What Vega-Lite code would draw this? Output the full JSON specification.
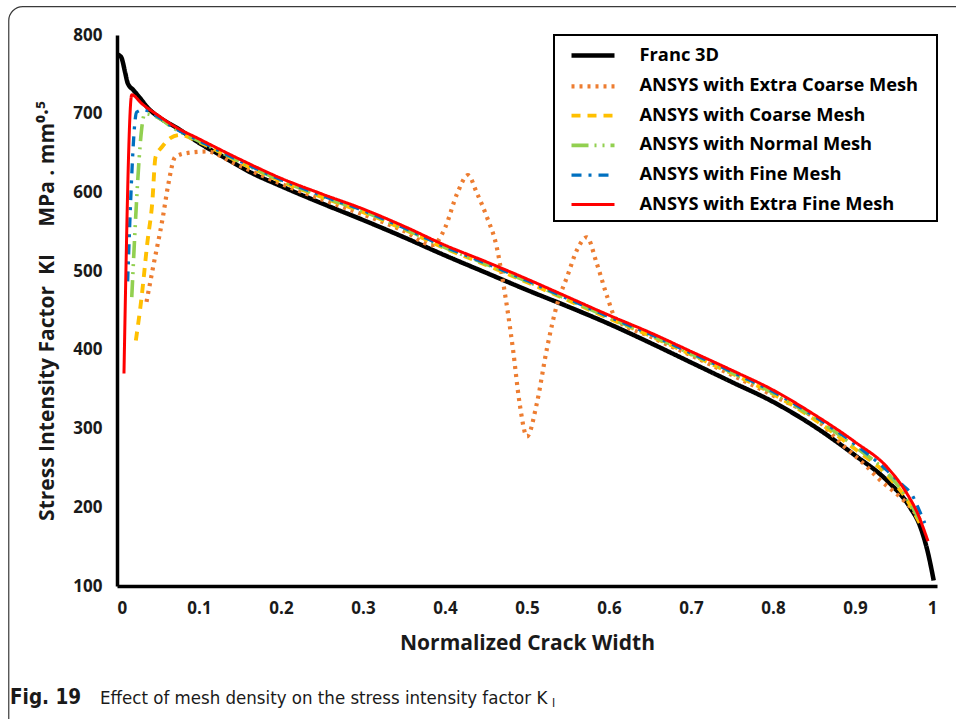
{
  "$schema": "https://vega.github.io/schema/vega-lite/v6.json",
  "width": 820,
  "height": 551,
  "autosize": {"type": "none"},
  "padding": {"left": 117, "top": 35, "right": 19, "bottom": 133},
  "background": "white",
  "config": {
    "view": {"stroke": null},
    "font": "Open Sans",
    "axis": {
      "domainColor": "#000000",
      "domainWidth": 3.5,
      "gridColor": "#d9d9d9",
      "gridWidth": 1.5,
      "ticks": false,
      "labelFont": "Open Sans",
      "labelFontWeight": "bold",
      "labelFontSize": 17,
      "labelColor": "#1a1a1a",
      "titleFont": "Open Sans",
      "titleFontWeight": "bold",
      "titleFontSize": 21,
      "titleColor": "#1a1a1a"
    },
    "legend": {
      "strokeColor": "#000000",
      "strokeWidth": 2,
      "fillColor": "#ffffff"
    }
  },
  "datasets": {
    "curves": [
      {"series": "Franc 3D", "x": 0.001, "k": 775},
      {"series": "Franc 3D", "x": 0.005, "k": 772},
      {"series": "Franc 3D", "x": 0.01, "k": 752},
      {"series": "Franc 3D", "x": 0.013, "k": 739},
      {"series": "Franc 3D", "x": 0.02, "k": 730},
      {"series": "Franc 3D", "x": 0.028, "k": 720},
      {"series": "Franc 3D", "x": 0.038, "k": 707},
      {"series": "Franc 3D", "x": 0.052, "k": 695},
      {"series": "Franc 3D", "x": 0.073, "k": 682},
      {"series": "Franc 3D", "x": 0.1, "k": 663},
      {"series": "Franc 3D", "x": 0.13, "k": 645},
      {"series": "Franc 3D", "x": 0.16, "k": 627},
      {"series": "Franc 3D", "x": 0.2, "k": 608},
      {"series": "Franc 3D", "x": 0.25, "k": 586},
      {"series": "Franc 3D", "x": 0.3, "k": 565},
      {"series": "Franc 3D", "x": 0.35, "k": 543},
      {"series": "Franc 3D", "x": 0.4, "k": 520},
      {"series": "Franc 3D", "x": 0.45, "k": 498},
      {"series": "Franc 3D", "x": 0.5, "k": 476},
      {"series": "Franc 3D", "x": 0.55, "k": 455},
      {"series": "Franc 3D", "x": 0.6, "k": 433},
      {"series": "Franc 3D", "x": 0.65, "k": 409},
      {"series": "Franc 3D", "x": 0.7, "k": 384},
      {"series": "Franc 3D", "x": 0.75, "k": 359},
      {"series": "Franc 3D", "x": 0.8, "k": 334},
      {"series": "Franc 3D", "x": 0.85, "k": 303},
      {"series": "Franc 3D", "x": 0.9, "k": 266},
      {"series": "Franc 3D", "x": 0.94, "k": 233},
      {"series": "Franc 3D", "x": 0.967, "k": 200},
      {"series": "Franc 3D", "x": 0.979, "k": 177},
      {"series": "Franc 3D", "x": 0.989, "k": 142},
      {"series": "Franc 3D", "x": 0.996, "k": 107},

      {"series": "ANSYS with Extra Coarse Mesh", "x": 0.036, "k": 461},
      {"series": "ANSYS with Extra Coarse Mesh", "x": 0.044, "k": 505},
      {"series": "ANSYS with Extra Coarse Mesh", "x": 0.056, "k": 569},
      {"series": "ANSYS with Extra Coarse Mesh", "x": 0.062, "k": 607},
      {"series": "ANSYS with Extra Coarse Mesh", "x": 0.071, "k": 645},
      {"series": "ANSYS with Extra Coarse Mesh", "x": 0.085, "k": 650},
      {"series": "ANSYS with Extra Coarse Mesh", "x": 0.11, "k": 652},
      {"series": "ANSYS with Extra Coarse Mesh", "x": 0.141, "k": 638},
      {"series": "ANSYS with Extra Coarse Mesh", "x": 0.2, "k": 611},
      {"series": "ANSYS with Extra Coarse Mesh", "x": 0.25, "k": 591},
      {"series": "ANSYS with Extra Coarse Mesh", "x": 0.3, "k": 572},
      {"series": "ANSYS with Extra Coarse Mesh", "x": 0.35, "k": 551},
      {"series": "ANSYS with Extra Coarse Mesh", "x": 0.385, "k": 533},
      {"series": "ANSYS with Extra Coarse Mesh", "x": 0.4, "k": 555},
      {"series": "ANSYS with Extra Coarse Mesh", "x": 0.415, "k": 599},
      {"series": "ANSYS with Extra Coarse Mesh", "x": 0.428, "k": 622},
      {"series": "ANSYS with Extra Coarse Mesh", "x": 0.439, "k": 599},
      {"series": "ANSYS with Extra Coarse Mesh", "x": 0.451, "k": 569},
      {"series": "ANSYS with Extra Coarse Mesh", "x": 0.463, "k": 531},
      {"series": "ANSYS with Extra Coarse Mesh", "x": 0.471, "k": 485},
      {"series": "ANSYS with Extra Coarse Mesh", "x": 0.483, "k": 400},
      {"series": "ANSYS with Extra Coarse Mesh", "x": 0.491, "k": 332},
      {"series": "ANSYS with Extra Coarse Mesh", "x": 0.5, "k": 290},
      {"series": "ANSYS with Extra Coarse Mesh", "x": 0.512, "k": 332},
      {"series": "ANSYS with Extra Coarse Mesh", "x": 0.524, "k": 400},
      {"series": "ANSYS with Extra Coarse Mesh", "x": 0.537, "k": 459},
      {"series": "ANSYS with Extra Coarse Mesh", "x": 0.549, "k": 493},
      {"series": "ANSYS with Extra Coarse Mesh", "x": 0.561, "k": 527},
      {"series": "ANSYS with Extra Coarse Mesh", "x": 0.573, "k": 543},
      {"series": "ANSYS with Extra Coarse Mesh", "x": 0.585, "k": 510},
      {"series": "ANSYS with Extra Coarse Mesh", "x": 0.598, "k": 467},
      {"series": "ANSYS with Extra Coarse Mesh", "x": 0.608, "k": 440},
      {"series": "ANSYS with Extra Coarse Mesh", "x": 0.65, "k": 417},
      {"series": "ANSYS with Extra Coarse Mesh", "x": 0.7, "k": 393},
      {"series": "ANSYS with Extra Coarse Mesh", "x": 0.75, "k": 368},
      {"series": "ANSYS with Extra Coarse Mesh", "x": 0.8, "k": 342},
      {"series": "ANSYS with Extra Coarse Mesh", "x": 0.857, "k": 308},
      {"series": "ANSYS with Extra Coarse Mesh", "x": 0.882, "k": 282},
      {"series": "ANSYS with Extra Coarse Mesh", "x": 0.916, "k": 250},
      {"series": "ANSYS with Extra Coarse Mesh", "x": 0.93, "k": 235},
      {"series": "ANSYS with Extra Coarse Mesh", "x": 0.945, "k": 222},
      {"series": "ANSYS with Extra Coarse Mesh", "x": 0.955, "k": 213},
      {"series": "ANSYS with Extra Coarse Mesh", "x": 0.971, "k": 196},
      {"series": "ANSYS with Extra Coarse Mesh", "x": 0.982, "k": 180},

      {"series": "ANSYS with Coarse Mesh", "x": 0.023, "k": 412},
      {"series": "ANSYS with Coarse Mesh", "x": 0.03, "k": 467},
      {"series": "ANSYS with Coarse Mesh", "x": 0.037, "k": 536},
      {"series": "ANSYS with Coarse Mesh", "x": 0.043, "k": 587},
      {"series": "ANSYS with Coarse Mesh", "x": 0.047, "k": 645},
      {"series": "ANSYS with Coarse Mesh", "x": 0.055, "k": 658},
      {"series": "ANSYS with Coarse Mesh", "x": 0.065, "k": 669},
      {"series": "ANSYS with Coarse Mesh", "x": 0.077, "k": 673},
      {"series": "ANSYS with Coarse Mesh", "x": 0.1, "k": 664},
      {"series": "ANSYS with Coarse Mesh", "x": 0.15, "k": 638},
      {"series": "ANSYS with Coarse Mesh", "x": 0.2, "k": 614},
      {"series": "ANSYS with Coarse Mesh", "x": 0.25, "k": 594},
      {"series": "ANSYS with Coarse Mesh", "x": 0.3, "k": 575},
      {"series": "ANSYS with Coarse Mesh", "x": 0.35, "k": 553},
      {"series": "ANSYS with Coarse Mesh", "x": 0.4, "k": 529},
      {"series": "ANSYS with Coarse Mesh", "x": 0.45, "k": 508},
      {"series": "ANSYS with Coarse Mesh", "x": 0.5, "k": 486},
      {"series": "ANSYS with Coarse Mesh", "x": 0.55, "k": 463},
      {"series": "ANSYS with Coarse Mesh", "x": 0.6, "k": 440},
      {"series": "ANSYS with Coarse Mesh", "x": 0.65, "k": 418},
      {"series": "ANSYS with Coarse Mesh", "x": 0.7, "k": 394},
      {"series": "ANSYS with Coarse Mesh", "x": 0.75, "k": 370},
      {"series": "ANSYS with Coarse Mesh", "x": 0.8, "k": 344},
      {"series": "ANSYS with Coarse Mesh", "x": 0.85, "k": 312},
      {"series": "ANSYS with Coarse Mesh", "x": 0.9, "k": 274},
      {"series": "ANSYS with Coarse Mesh", "x": 0.94, "k": 240},
      {"series": "ANSYS with Coarse Mesh", "x": 0.963, "k": 210},
      {"series": "ANSYS with Coarse Mesh", "x": 0.98, "k": 178},

      {"series": "ANSYS with Normal Mesh", "x": 0.018, "k": 467},
      {"series": "ANSYS with Normal Mesh", "x": 0.034, "k": 700},
      {"series": "ANSYS with Normal Mesh", "x": 0.05, "k": 695},
      {"series": "ANSYS with Normal Mesh", "x": 0.07, "k": 681},
      {"series": "ANSYS with Normal Mesh", "x": 0.1, "k": 665},
      {"series": "ANSYS with Normal Mesh", "x": 0.15, "k": 639},
      {"series": "ANSYS with Normal Mesh", "x": 0.2, "k": 615},
      {"series": "ANSYS with Normal Mesh", "x": 0.25, "k": 595},
      {"series": "ANSYS with Normal Mesh", "x": 0.3, "k": 576},
      {"series": "ANSYS with Normal Mesh", "x": 0.35, "k": 554},
      {"series": "ANSYS with Normal Mesh", "x": 0.4, "k": 530},
      {"series": "ANSYS with Normal Mesh", "x": 0.45, "k": 509},
      {"series": "ANSYS with Normal Mesh", "x": 0.5, "k": 487},
      {"series": "ANSYS with Normal Mesh", "x": 0.55, "k": 464},
      {"series": "ANSYS with Normal Mesh", "x": 0.6, "k": 441},
      {"series": "ANSYS with Normal Mesh", "x": 0.65, "k": 419},
      {"series": "ANSYS with Normal Mesh", "x": 0.7, "k": 395},
      {"series": "ANSYS with Normal Mesh", "x": 0.75, "k": 371},
      {"series": "ANSYS with Normal Mesh", "x": 0.8, "k": 345},
      {"series": "ANSYS with Normal Mesh", "x": 0.85, "k": 314},
      {"series": "ANSYS with Normal Mesh", "x": 0.9, "k": 277},
      {"series": "ANSYS with Normal Mesh", "x": 0.94, "k": 243},
      {"series": "ANSYS with Normal Mesh", "x": 0.963, "k": 212},
      {"series": "ANSYS with Normal Mesh", "x": 0.978, "k": 185},

      {"series": "ANSYS with Fine Mesh", "x": 0.013, "k": 487},
      {"series": "ANSYS with Fine Mesh", "x": 0.024, "k": 702},
      {"series": "ANSYS with Fine Mesh", "x": 0.032, "k": 705},
      {"series": "ANSYS with Fine Mesh", "x": 0.05, "k": 696},
      {"series": "ANSYS with Fine Mesh", "x": 0.07, "k": 682},
      {"series": "ANSYS with Fine Mesh", "x": 0.1, "k": 666},
      {"series": "ANSYS with Fine Mesh", "x": 0.15, "k": 640},
      {"series": "ANSYS with Fine Mesh", "x": 0.2, "k": 616},
      {"series": "ANSYS with Fine Mesh", "x": 0.25, "k": 596},
      {"series": "ANSYS with Fine Mesh", "x": 0.3, "k": 577},
      {"series": "ANSYS with Fine Mesh", "x": 0.35, "k": 555},
      {"series": "ANSYS with Fine Mesh", "x": 0.4, "k": 531},
      {"series": "ANSYS with Fine Mesh", "x": 0.45, "k": 510},
      {"series": "ANSYS with Fine Mesh", "x": 0.5, "k": 488},
      {"series": "ANSYS with Fine Mesh", "x": 0.55, "k": 465},
      {"series": "ANSYS with Fine Mesh", "x": 0.6, "k": 442},
      {"series": "ANSYS with Fine Mesh", "x": 0.65, "k": 420},
      {"series": "ANSYS with Fine Mesh", "x": 0.7, "k": 396},
      {"series": "ANSYS with Fine Mesh", "x": 0.75, "k": 372},
      {"series": "ANSYS with Fine Mesh", "x": 0.8, "k": 347},
      {"series": "ANSYS with Fine Mesh", "x": 0.85, "k": 316},
      {"series": "ANSYS with Fine Mesh", "x": 0.9, "k": 280},
      {"series": "ANSYS with Fine Mesh", "x": 0.94, "k": 246},
      {"series": "ANSYS with Fine Mesh", "x": 0.955, "k": 231},
      {"series": "ANSYS with Fine Mesh", "x": 0.971, "k": 213},
      {"series": "ANSYS with Fine Mesh", "x": 0.978, "k": 197},
      {"series": "ANSYS with Fine Mesh", "x": 0.985, "k": 180},

      {"series": "ANSYS with Extra Fine Mesh", "x": 0.0085, "k": 370},
      {"series": "ANSYS with Extra Fine Mesh", "x": 0.018, "k": 724},
      {"series": "ANSYS with Extra Fine Mesh", "x": 0.03, "k": 713},
      {"series": "ANSYS with Extra Fine Mesh", "x": 0.05, "k": 698},
      {"series": "ANSYS with Extra Fine Mesh", "x": 0.07, "k": 684},
      {"series": "ANSYS with Extra Fine Mesh", "x": 0.1, "k": 668},
      {"series": "ANSYS with Extra Fine Mesh", "x": 0.15, "k": 642},
      {"series": "ANSYS with Extra Fine Mesh", "x": 0.2, "k": 618},
      {"series": "ANSYS with Extra Fine Mesh", "x": 0.25, "k": 598},
      {"series": "ANSYS with Extra Fine Mesh", "x": 0.3, "k": 579},
      {"series": "ANSYS with Extra Fine Mesh", "x": 0.35, "k": 557},
      {"series": "ANSYS with Extra Fine Mesh", "x": 0.4, "k": 533},
      {"series": "ANSYS with Extra Fine Mesh", "x": 0.45, "k": 512},
      {"series": "ANSYS with Extra Fine Mesh", "x": 0.5, "k": 490},
      {"series": "ANSYS with Extra Fine Mesh", "x": 0.55, "k": 467},
      {"series": "ANSYS with Extra Fine Mesh", "x": 0.6, "k": 444},
      {"series": "ANSYS with Extra Fine Mesh", "x": 0.65, "k": 422},
      {"series": "ANSYS with Extra Fine Mesh", "x": 0.7, "k": 398},
      {"series": "ANSYS with Extra Fine Mesh", "x": 0.75, "k": 374},
      {"series": "ANSYS with Extra Fine Mesh", "x": 0.8, "k": 349},
      {"series": "ANSYS with Extra Fine Mesh", "x": 0.85, "k": 318},
      {"series": "ANSYS with Extra Fine Mesh", "x": 0.9, "k": 283},
      {"series": "ANSYS with Extra Fine Mesh", "x": 0.94, "k": 250},
      {"series": "ANSYS with Extra Fine Mesh", "x": 0.963, "k": 218},
      {"series": "ANSYS with Extra Fine Mesh", "x": 0.976, "k": 193},
      {"series": "ANSYS with Extra Fine Mesh", "x": 0.989, "k": 157}
    ]
  },
  "layer": [
    {
      "description": "figure frame",
      "data": {"values": [{}]},
      "mark": {"type": "rect", "fillOpacity": 0, "stroke": "#3a3a3a", "strokeWidth": 1.2, "cornerRadius": 14},
      "encoding": {
        "x": {"datum": -0.132, "type": "quantitative", "scale": {"domain": [0, 1]}},
        "x2": {"datum": 1.2},
        "y": {"datum": 836, "type": "quantitative", "scale": {"domain": [100, 800]}},
        "y2": {"datum": -250}
      }
    },
    {
      "data": {"name": "curves"},
      "mark": {"type": "line", "interpolate": "monotone", "strokeCap": "butt", "strokeJoin": "round"},
      "encoding": {
        "x": {
          "field": "x", "type": "quantitative",
          "scale": {"domain": [0, 1]},
          "axis": {
            "title": "Normalized Crack Width",
            "values": [0, 0.1, 0.2, 0.3, 0.4, 0.5, 0.6, 0.7, 0.8, 0.9, 1],
            "format": "~g",
            "labelPadding": 14,
            "titlePadding": 16
          }
        },
        "y": {
          "field": "k", "type": "quantitative",
          "scale": {"domain": [100, 800]},
          "axis": {
            "title": "Stress Intensity Factor\u00a0\u00a0KI\u00a0\u00a0\u00a0\u00a0\u00a0MPa . mm\u2070\u00b7\u2075",
            "values": [100, 200, 300, 400, 500, 600, 700, 800],
            "labelPadding": 15,
            "titlePadding": 15
          }
        },
        "color": {
          "field": "series", "type": "nominal",
          "scale": {
            "domain": ["Franc 3D", "ANSYS with Extra Coarse Mesh", "ANSYS with Coarse Mesh", "ANSYS with Normal Mesh", "ANSYS with Fine Mesh", "ANSYS with Extra Fine Mesh"],
            "range": ["#000000", "#ED7D31", "#FFC000", "#92D050", "#0070C0", "#FF0000"]
          },
          "legend": {
            "title": "\u00a0",
            "titleOrient": "right",
            "titlePadding": 11,
            "titleFontSize": 12,
            "orient": "top-right",
            "offset": 0,
            "padding": 8,
            "symbolType": "M-2.15,0H2.15",
            "symbolSize": 400,
            "symbolOffset": 18.5,
            "labelOffset": 34,
            "labelFont": "Open Sans",
            "labelFontWeight": "bold",
            "labelFontSize": 18.3,
            "labelColor": "#000000",
            "labelLimit": 400,
            "rowPadding": 8.8
          }
        },
        "strokeDash": {
          "field": "series", "type": "nominal",
          "scale": {
            "domain": ["Franc 3D", "ANSYS with Extra Coarse Mesh", "ANSYS with Coarse Mesh", "ANSYS with Normal Mesh", "ANSYS with Fine Mesh", "ANSYS with Extra Fine Mesh"],
            "range": [[1, 0], [3, 5], [9, 7], [17, 6, 2, 6, 2, 6], [10, 7, 3, 7], [1, 0]]
          }
        },
        "strokeWidth": {
          "field": "series", "type": "nominal",
          "scale": {
            "domain": ["Franc 3D", "ANSYS with Extra Coarse Mesh", "ANSYS with Coarse Mesh", "ANSYS with Normal Mesh", "ANSYS with Fine Mesh", "ANSYS with Extra Fine Mesh"],
            "range": [4.5, 3, 2, 2, 2.5, 2]
          }
        }
      }
    },
    {
      "description": "caption label",
      "data": {"values": [{}]},
      "mark": {"type": "text", "align": "left", "baseline": "middle", "font": "Liberation Sans Narrow, DejaVu Sans Condensed, sans-serif", "fontWeight": "bold", "fontSize": 20.5, "color": "#1a1a1a", "text": "Fig. 19"},
      "encoding": {
        "x": {"datum": -0.1305, "type": "quantitative"},
        "y": {"datum": -42.4, "type": "quantitative"}
      }
    },
    {
      "description": "caption text",
      "data": {"values": [{}]},
      "mark": {"type": "text", "align": "left", "baseline": "middle", "font": "Liberation Sans Narrow, DejaVu Sans Condensed, sans-serif", "fontSize": 18.5, "color": "#1a1a1a", "text": "Effect of mesh density on the stress intensity factor K"},
      "encoding": {
        "x": {"datum": -0.0207, "type": "quantitative"},
        "y": {"datum": -42.4, "type": "quantitative"}
      }
    },
    {
      "description": "caption subscript",
      "data": {"values": [{}]},
      "mark": {"type": "text", "align": "left", "baseline": "middle", "font": "Liberation Sans Narrow, DejaVu Sans Condensed, sans-serif", "fontSize": 12, "color": "#1a1a1a", "text": "I"},
      "encoding": {
        "x": {"datum": 0.5305, "type": "quantitative"},
        "y": {"datum": -49, "type": "quantitative"}
      }
    }
  ]
}
